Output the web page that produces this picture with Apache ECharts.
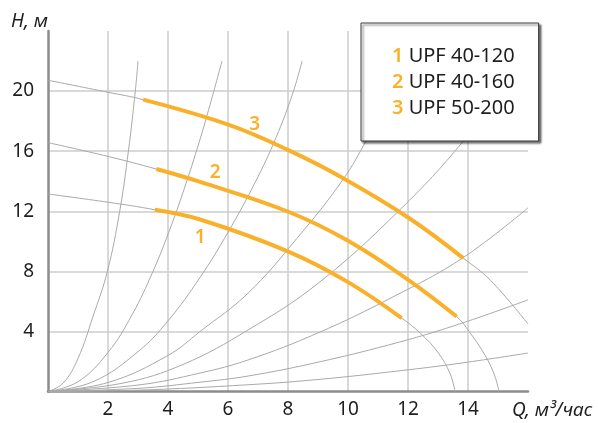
<!DOCTYPE html>
<html>
<head>
<meta charset="utf-8">
<script src="https://cdn.jsdelivr.net/npm/echarts@6/dist/echarts.min.js"></script>
<style>
  html, body { margin: 0; padding: 0; background: #fff; }
  #chart { width: 598px; height: 423px; }
</style>
</head>
<body>
<div id="chart"></div>
<script>
// pump curves (Q, м3/час ; H, м) - orange working part
const pumpNames = ["UPF 40-120", "UPF 40-160", "UPF 50-200"];
const pumpNums = ["1", "2", "3"];
const pump1 = [[3.56, 12.1], [5.07, 11.45], [8.03, 9.3], [10.03, 7.25], [11.79, 4.88]];
const pump2 = [[3.61, 14.81], [5.07, 13.95], [8.03, 11.95], [10.03, 10.0], [12.03, 7.4], [13.62, 4.99]];
const pump3 = [[3.17, 19.43], [6.03, 17.75], [8.03, 16.05], [9.84, 14.2], [12.03, 11.55], [13.84, 8.88]];

// grey continuation of the pump curves
const pump1Left = [[0, 13.15], [2, 12.6]];
const pump1Right = [[12.4, 3.9], [13.0, 2.6], [13.4, 1.2], [13.57, 0]];
const pump2Left = [[0, 16.57], [2, 15.65]];
const pump2Right = [[14.04, 3.99], [14.6, 2.3], [14.9, 1.0], [15.03, 0]];
const pump3Left = [[0, 20.72], [2, 19.92]];
const pump3Right = [[14.75, 7.4], [16, 4.5]];

// where the curve numbers sit
const pumpTagAt = [[5.07, 10.25], [5.57, 14.55], [6.89, 17.77]];

// system curves from origin
const sysA = [[0, 0], [0.5, 0.55], [1, 2.2], [1.5, 5.0], [1.98, 8], [2.39, 12], [2.68, 16], [2.91, 20], [3.0, 22]];
const sysB = [[0, 0], [1, 0.65], [2, 2.6], [2.8, 5.1], [3.5, 8.0], [4.1, 11.0], [4.6, 13.85], [5.1, 17.0], [5.5, 19.8], [5.8, 22]];
const sysC = [[0, 0], [1.5, 0.65], [3, 2.65], [4, 4.7], [5.07, 7.6], [6, 10.6], [6.9, 13.9], [7.6, 16.9], [8.15, 19.8], [8.47, 22]];
const sysD = [[0, 0], [2, 0.6], [4, 2.4], [5.07, 4.0], [6.67, 6.55], [8.3, 10.2], [9.83, 14.1], [10.63, 16.77], [12.1, 22]];
const sysE = [[0, 0], [2.5, 0.56], [4.5, 1.8], [6.67, 4.1], [9, 7.2], [11.73, 12.1], [13.83, 16.63], [16, 22.3]];
const sysF = [[0, 0], [3, 0.43], [5.07, 1.23], [6.67, 2.1], [9, 3.9], [11.5, 6.3], [13.83, 8.9], [16, 12.23]];
const sysG = [[0, 0], [3, 0.21], [5.07, 0.62], [6.67, 1.03], [9, 1.95], [11.73, 3.3], [13.8, 4.55], [16, 6.1]];
const sysH = [[0, 0], [3, 0.09], [6.67, 0.45], [9, 0.8], [11.73, 1.38], [13.8, 1.9], [16, 2.56]];

const orange = "#f9b12c";
const grey = "#a9a9a9";
const font = "Noto Sans";

const chart = echarts.init(document.getElementById("chart"));

const greyLine = (data) => ({
  type: "line",
  data: data,
  smooth: 0.4,
  symbol: "none",
  silent: true,
  z: 2,
  lineStyle: { color: grey, width: 1 },
});

const pumps = [pump1, pump2, pump3];
const pumpFull = [
  pump1Left.concat(pump1, pump1Right),
  pump2Left.concat(pump2, pump2Right),
  pump3Left.concat(pump3, pump3Right),
];

const series = [];
[sysA, sysB, sysC, sysD, sysE, sysF, sysG, sysH].forEach((s) => series.push(greyLine(s)));
pumpFull.forEach((s) => series.push(greyLine(s)));
pumps.forEach((p, i) => {
  series.push({
    name: pumpNames[i],
    type: "line",
    data: p,
    smooth: 0.4,
    symbol: "none",
    z: 3,
    lineStyle: { color: orange, width: 4, cap: "butt" },
    itemStyle: { color: orange },
    markPoint: {
      symbol: "circle",
      symbolSize: 1,
      itemStyle: { color: "rgba(0,0,0,0)" },
      label: {
        show: true,
        position: "inside",
        formatter: pumpNums[i],
        color: orange,
        fontFamily: font,
        fontSize: 19,
        fontWeight: 600,
      },
      data: [{ coord: pumpTagAt[i] }],
    },
  });
});

chart.setOption({
  animation: false,
  backgroundColor: "#fff",
  grid: { left: 48, right: 70, top: 31, bottom: 31.5 },
  legend: {
    orient: "vertical",
    left: 361,
    top: 23,
    data: pumpNames,
    icon: "rect",
    itemWidth: 0,
    itemHeight: 0,
    itemGap: 6,
    padding: [23, 24, 23, 26],
    selectedMode: false,
    backgroundColor: "#fff",
    borderColor: "#3a3a3a",
    borderWidth: 1,
    shadowColor: "rgba(0,0,0,0.55)",
    shadowOffsetX: 2,
    shadowOffsetY: 2,
    shadowBlur: 2,
    formatter: (name) => "{n|" + pumpNums[pumpNames.indexOf(name)] + "} " + name,
    textStyle: {
      fontFamily: font,
      fontSize: 20,
      color: "#1e1e1e",
      rich: {
        n: { color: orange, fontFamily: font, fontSize: 20, fontWeight: 600 },
      },
    },
  },
  xAxis: {
    type: "value",
    min: 0,
    max: 16,
    interval: 2,
    name: "Q, м³/час",
    nameLocation: "end",
    nameGap: -16,
    nameTextStyle: {
      fontFamily: font,
      fontStyle: "italic",
      fontSize: 19,
      color: "#1e1e1e",
      align: "left",
      verticalAlign: "top",
      padding: [10, 0, 0, 0],
    },
    axisLine: { show: true, lineStyle: { color: "#8c8c8c", width: 2.5 } },
    axisTick: { show: false },
    axisLabel: {
      margin: 9,
      fontFamily: font,
      fontSize: 19,
      color: "#1e1e1e",
      formatter: (v) => (v === 0 || v === 16 ? "" : String(v)),
    },
    splitLine: {
      show: true,
      showMinLine: false,
      showMaxLine: false,
      lineStyle: { color: "#cccccc", width: 1.5 },
    },
  },
  yAxis: {
    type: "value",
    min: 0,
    max: 24,
    interval: 4,
    name: "H, м",
    nameLocation: "end",
    nameGap: 0,
    nameTextStyle: {
      fontFamily: font,
      fontStyle: "italic",
      fontSize: 19,
      color: "#1e1e1e",
      align: "right",
      verticalAlign: "bottom",
    },
    axisLine: { show: true, lineStyle: { color: "#8c8c8c", width: 2.5 } },
    axisTick: { show: false },
    axisLabel: {
      margin: 14,
      fontFamily: font,
      fontSize: 19,
      color: "#1e1e1e",
      formatter: (v) => (v === 0 || v === 24 ? "" : String(v)),
    },
    splitLine: {
      show: true,
      showMinLine: false,
      showMaxLine: false,
      lineStyle: { color: "#cccccc", width: 1.5 },
    },
  },
  series: series,
});
</script>
</body>
</html>
